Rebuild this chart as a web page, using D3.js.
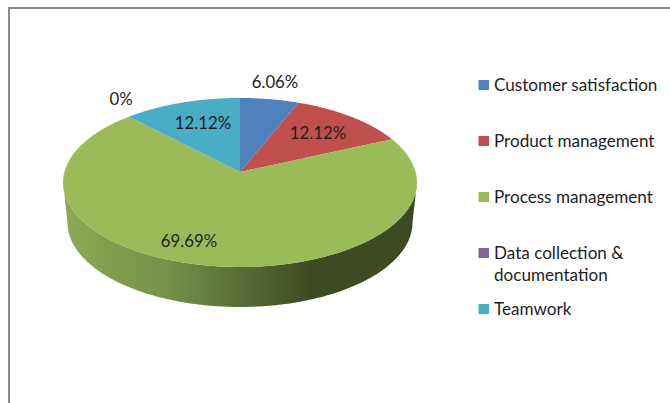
<!DOCTYPE html>
<html>
<head>
<meta charset="utf-8">
<script src="https://cdn.jsdelivr.net/npm/d3@7"></script>
<style>
  html, body { margin: 0; padding: 0; background: #fff; }
  text { font-family: Lato, "Open Sans", sans-serif; fill: #1e1e1e; }
</style>
</head>
<body>
<div id="chart"></div>
<script>
// chart values
var categories = ["Customer satisfaction", "Product management", "Process management", "Data collection & documentation", "Teamwork"];
var values = [6.06, 12.12, 69.69, 0, 12.12];
var labels = ["6.06%", "12.12%", "69.69%", "0%", "12.12%"];
var colors = ["#4f81bd", "#c0504d", "#9bbb59", "#8064a2", "#4bacc6"];

var svgWidth = 670, svgHeight = 403;

var svg = d3.select("#chart").append("svg")
    .attr("width", svgWidth)
    .attr("height", svgHeight)
    .style("display", "block");

// frame of the chart
svg.append("path")
    .attr("d", "M9,403V8H670")
    .attr("fill", "none")
    .attr("stroke", "#8a8a8a")
    .attr("stroke-width", 2);

// the top of the pie is tilted in perspective, so the centre is not the middle of the ellipse
var cx = 240, cy = 172;
var rx = 175.6, ry = 83.2, tilt = -0.124;
var depth = 40, shrink = 0.975;

function project(angle, r) {
    var u = Math.sin(angle) * r, v = -Math.cos(angle) * r;
    var d = 1 + tilt * v;
    return [cx + rx * u / d, cy + ry * v / d];
}

// points along the rim between two angles
function rim(a0, a1) {
    var n = Math.max(2, Math.ceil(Math.abs(a1 - a0) * 60));
    return d3.range(n + 1).map(function (i) {
        return project(a0 + (a1 - a0) * i / n, 1);
    });
}

var line = d3.line();

var pie = d3.pie().sort(null).value(function (d) { return d; });
var arcs = pie(values);

var defs = svg.append("defs");
var grad = defs.append("linearGradient")
    .attr("id", "sideGrad")
    .attr("gradientUnits", "userSpaceOnUse")
    .attr("x1", 63).attr("x2", 417)
    .attr("y1", 0).attr("y2", 0);
grad.append("stop").attr("offset", "0").attr("stop-color", "#8ea852");
grad.append("stop").attr("offset", "0.3").attr("stop-color", "#75904a");
grad.append("stop").attr("offset", "0.7").attr("stop-color", "#3e4a22");
grad.append("stop").attr("offset", "1").attr("stop-color", "#3e4a22");

// side wall: from the widest point on one side to the widest point on the other
var widest = 0.124;
var frontTop = rim(Math.PI * 0.5 + widest, Math.PI * 1.5 - widest);
var frontBottom = frontTop.map(function (p) {
    return [cx + (p[0] - cx) * shrink, p[1] + depth];
}).reverse();

svg.append("path")
    .attr("d", line(frontTop.concat(frontBottom)) + "Z")
    .attr("fill", "url(#sideGrad)");

// top slices
svg.selectAll("path.slice")
    .data(arcs)
    .enter()
    .append("path")
    .attr("class", "slice")
    .attr("d", function (d) {
        return line([[cx, cy]].concat(rim(d.startAngle, d.endAngle))) + "Z";
    })
    .attr("fill", function (d, i) { return colors[i]; });

// data labels, placed by hand as in the original
var labelPos = [[275, 88], [318, 139], [189, 247], [121, 105], [203, 129]];
svg.selectAll("text.value")
    .data(labels)
    .enter()
    .append("text")
    .attr("class", "value")
    .attr("x", function (d, i) { return labelPos[i][0]; })
    .attr("y", function (d, i) { return labelPos[i][1]; })
    .attr("text-anchor", "middle")
    .attr("font-size", 16.8)
    .text(function (d) { return d; });

// legend
var legendY = [85, 141, 197, 253, 309];
var legend = svg.selectAll("g.legend")
    .data(categories)
    .enter()
    .append("g")
    .attr("class", "legend")
    .attr("transform", function (d, i) { return "translate(479," + legendY[i] + ")"; });

legend.append("rect")
    .attr("x", -0.5)
    .attr("y", -5)
    .attr("width", 10.5)
    .attr("height", 10)
    .attr("fill", function (d, i) { return colors[i]; });

legend.append("text")
    .attr("x", 15)
    .attr("y", 6)
    .attr("font-size", 17.1)
    .each(function (d) {
        // long names wrap onto a second line
        var t = d3.select(this);
        var parts = d.length > 25 ? ["Data collection &", "documentation"] : [d];
        parts.forEach(function (p, i) {
            t.append("tspan").attr("x", 15).attr("dy", i ? 22 : 0).text(p);
        });
    });
</script>
</body>
</html>
